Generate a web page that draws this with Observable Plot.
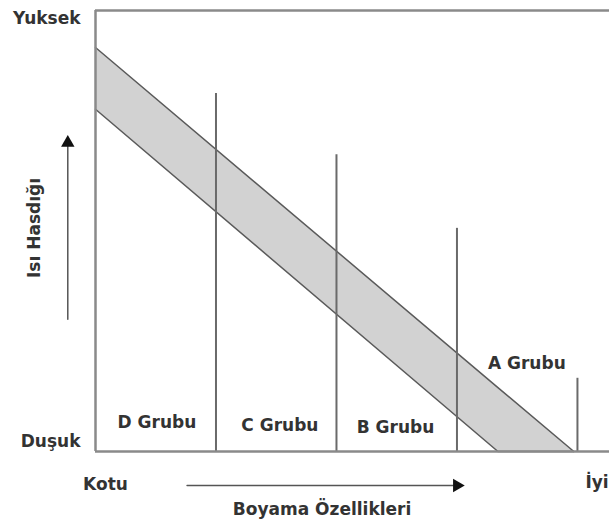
<!DOCTYPE html>
<html>
<head>
<meta charset="utf-8">
<script src="https://cdn.jsdelivr.net/npm/d3@7"></script>
<script src="https://cdn.jsdelivr.net/npm/@observablehq/plot@0.6"></script>
<style>
  html, body { margin: 0; padding: 0; background: #fff; }
  svg { display: block; }
</style>
</head>
<body>
<div id="chart"></div>
<script>
// --- data ---
const groups = ["D Grubu", "C Grubu", "B Grubu", "A Grubu"];
const groupBounds = [0, 1, 2, 3, 4];          // boundaries along "Boyama Özellikleri"
const groupLineTops = [8.12, 6.73, 5.06, 1.66]; // heights of the dividing lines at 1,2,3,4
const groupLabelX = [0.51, 1.53, 2.49, 3.58];
const groupLabelY = [0.65, 0.58, 0.54, 2.0];

const bandX = [0, 3.34, 3.97];
const bandLow = [7.76, 0, 0];
const bandHigh = [9.16, 1.45, 0];

const xExtent = [0, 4.266];
const yExtent = [0, 10];
const yTickValues = [0, 10];
const yTickLabels = ["Duşuk", "Yuksek"];
const xTickValues = [0, 4];
const xTickLabels = ["Kotu", "İyi"];

const xAxisTitle = "Boyama Özellikleri";
const yAxisTitle = "Isı Hasdığı";
const xArrow = [0.76, 3.0];   // along x, drawn below the frame
const xArrowY = -0.77;
const yArrow = [3.0, 7.0];    // along y, drawn left of the frame
const yArrowX = -0.23;

// --- build tables ---
const band = bandX.map((x, i) => ({x, lo: bandLow[i], hi: bandHigh[i]}));
const dividers = groupLineTops.map((top, i) => ({x: groupBounds[i + 1], top}));
const labels = groups.map((g, i) => ({g, x: groupLabelX[i], y: groupLabelY[i]}));

const font = "'DejaVu Sans', Verdana, sans-serif";
const txt = "#333";
const fs = 17;

const chart = Plot.plot({
  width: 609,
  height: 526,
  marginLeft: 95,
  marginRight: 0,
  marginTop: 10,
  marginBottom: 75,
  style: {fontFamily: font, fontWeight: "bold", fontSize: fs + "px", color: txt, background: "#fff"},
  x: {domain: xExtent, axis: null},
  y: {domain: yExtent, axis: null},
  marks: [
    Plot.areaY(band, {x: "x", y1: "lo", y2: "hi", fill: "#d2d2d2"}),
    Plot.line(band, {x: "x", y: "hi", stroke: "#5a5a5a", strokeWidth: 1.5}),
    Plot.line(band, {x: "x", y: "lo", stroke: "#5a5a5a", strokeWidth: 1.5}),
    Plot.ruleX(dividers, {x: "x", y1: 0, y2: "top", stroke: "#6a6a6a", strokeWidth: 2}),
    Plot.ruleY(yExtent, {x1: xExtent[0], x2: xExtent[1], stroke: "#8a8a8a", strokeWidth: 2.5}),
    Plot.ruleX([xExtent[0]], {y1: yExtent[0], y2: yExtent[1], stroke: "#8a8a8a", strokeWidth: 2.5}),
    Plot.text(labels, {x: "x", y: "y", text: "g", fill: txt, fontSize: fs}),
    // y end labels
    Plot.axisY([yTickValues[1]], {tickSize: 0, tickPadding: 15, tickFormat: () => yTickLabels[1], dy: 8, fontSize: fs, fill: txt, label: null}),
    Plot.axisY([yTickValues[0]], {tickSize: 0, tickPadding: 15, tickFormat: () => yTickLabels[0], dy: -10, fontSize: fs, fill: txt, label: null}),
    // x end labels
    Plot.axisX([xTickValues[0]], {tickSize: 0, tickPadding: 26, tickFormat: () => xTickLabels[0], dx: 10, fontSize: fs, fill: txt, label: null}),
    Plot.axisX([xTickValues[1]], {tickSize: 0, tickPadding: 24, tickFormat: () => xTickLabels[1], textAnchor: "start", dx: 8, fontSize: fs, fill: txt, label: null}),
    // arrows
    Plot.arrow([0], {x1: xArrow[0], x2: xArrow[1], y1: xArrowY, y2: xArrowY, stroke: "#555", strokeWidth: 1.5, headLength: 0, clip: false}),
    Plot.dot([0], {x: xArrow[1], y: xArrowY, symbol: "triangle", rotate: 90, r: 5, fill: "#111", stroke: "none"}),
    Plot.arrow([0], {x1: yArrowX, x2: yArrowX, y1: yArrow[0], y2: yArrow[1], stroke: "#555", strokeWidth: 1.5, headLength: 0}),
    Plot.dot([0], {x: yArrowX, y: yArrow[1], symbol: "triangle", r: 5, fill: "#111", stroke: "none"}),
    // axis titles
    Plot.text([xAxisTitle], {x: (xArrow[0] + xArrow[1]) / 2, y: xArrowY, text: d => d, dy: 24, dx: 0, fontSize: fs, fill: txt}),
    Plot.text([yAxisTitle], {x: yArrowX, y: (yArrow[0] + yArrow[1]) / 2, text: d => d, rotate: -90, dx: -33, dy: -3, fontSize: fs, fill: txt})
  ]
});
document.getElementById("chart").appendChild(chart);
</script>
</body>
</html>
